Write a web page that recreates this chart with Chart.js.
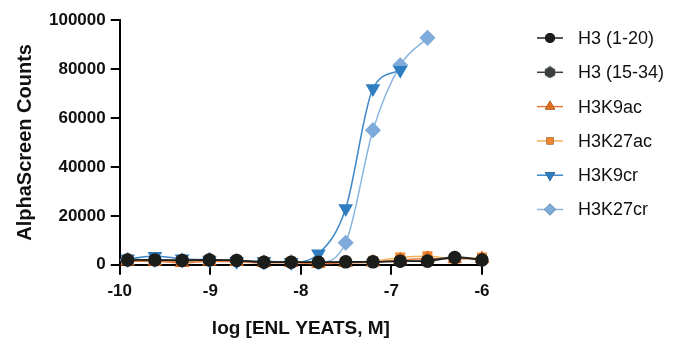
<!DOCTYPE html>
<html>
<head>
<meta charset="utf-8">
<script src="https://cdn.jsdelivr.net/npm/chart.js@4"></script>
<style>
    body { margin: 0; background: #fff; }
    .chart-box { width: 675px; height: 341px; position: relative; }
</style>
</head>
<body>
<div class="chart-box"><canvas id="curveChart"></canvas></div>
<script>
// log concentration of ENL YEATS (M), 2-fold dilution series
const logConc = [-9.913, -9.612, -9.311, -9.010, -8.709, -8.408, -8.107, -7.806, -7.505, -7.204, -6.903, -6.602, -6.301, -6.000];

const seriesNames = ['H3 (1-20)', 'H3 (15-34)', 'H3K9ac', 'H3K27ac', 'H3K9cr', 'H3K27cr'];

const h3_1_20  = [2000, 2000, 1800, 2000, 1800, 1000, 1000, 1000, 1200, 1200, 1500, 1500, 3000, 2000];
const h3_15_34 = [2200, 2000, 2000, 2200, 1800, 1200, 1200, 1000, 1000, 1200, 1500, 1800, 3200, 2200];
const h3k9ac   = [1500, 1500, 800, 1500, 1200, 800, 800, 500, 800, 1000, 2000, 2500, 2500, 2500];
const h3k27ac  = [2000, 1500, 1500, 2200, 1500, 1200, 1200, 800, 1200, 1500, 3000, 3500, 2500, 3000];
const h3k9cr   = [2500, 3500, 2500, 2000, 1500, 1500, 1000, 4500, 23000, 72000, 79500, null, null, null];
const h3k27cr  = [2000, 2000, 1800, 2000, 1500, 1000, 1000, 1000, 9000, 55000, 81500, 92700, null, null];

const xTicks = [-10, -9, -8, -7, -6];
const yTicks = [0, 20000, 40000, 60000, 80000, 100000];

// hexagon marker for H3 (15-34)
function makeHexagon(size, color) {
    const c = document.createElement('canvas');
    c.width = size; c.height = size;
    const g = c.getContext('2d');
    const r = size / 2;
    g.beginPath();
    for (let i = 0; i < 6; i++) {
        const a = Math.PI / 6 + i * Math.PI / 3;
        const px = r + r * Math.cos(a), py = r + r * Math.sin(a);
        if (i === 0) g.moveTo(px, py); else g.lineTo(px, py);
    }
    g.closePath();
    g.fillStyle = color;
    g.fill();
    return c;
}

const hexMarker = makeHexagon(12, '#3b3f3b');

const styles = [
    { line: '#1c1e1c', fill: '#1c1e1c', point: 'circle', radius: 6, rot: 0 },
    { line: '#3b3f3b', fill: '#3b3f3b', point: hexMarker, radius: 6, rot: 0 },
    { line: '#e57a3c', fill: '#e06a1b', point: 'triangle', radius: 7, rot: 0 },
    { line: '#f5b15a', fill: '#ee8630', point: 'rect', radius: 6, rot: 0 },
    { line: '#3f88c8', fill: '#2f7dc1', point: 'triangle', radius: 7, rot: 180 },
    { line: '#8ab5de', fill: '#7eabda', point: 'rectRot', radius: 7, rot: 0 }
];

const allValues = [h3_1_20, h3_15_34, h3k9ac, h3k27ac, h3k9cr, h3k27cr];

const datasets = allValues.map((vals, i) => ({
    label: seriesNames[i],
    data: logConc.map((x, j) => ({ x: x, y: vals[j] })).filter(p => p.y !== null),
    borderColor: styles[i].line,
    backgroundColor: styles[i].fill,
    pointBackgroundColor: styles[i].fill,
    pointBorderColor: styles[i].fill,
    pointStyle: styles[i].point,
    pointRadius: styles[i].radius,
    pointRotation: styles[i].rot,
    borderWidth: 1.5,
    cubicInterpolationMode: 'monotone',
    showLine: true,
    clip: false
}));

// legend drawn by hand: line with marker through it, like the original
const sideLegend = {
    id: 'sideLegend',
    afterDraw(chart) {
        const ctx = chart.ctx;
        const x0 = chart.chartArea.right + 55;
        let y = chart.chartArea.top + 18;
        ctx.save();
        ctx.font = '18px "Liberation Sans", Arial, sans-serif';
        ctx.textBaseline = 'middle';
        chart.data.datasets.forEach((ds, i) => {
            ctx.strokeStyle = styles[i].line;
            ctx.lineWidth = 1.5;
            ctx.beginPath();
            ctx.moveTo(x0, y);
            ctx.lineTo(x0 + 26, y);
            ctx.stroke();
            Chart.helpers.drawPoint(ctx, {
                pointStyle: styles[i].point,
                rotation: styles[i].rot,
                radius: styles[i].radius - 1,
                borderWidth: 0
            }, x0 + 13, y);
            ctx.fillStyle = styles[i].fill;
            ctx.fill();
            ctx.fillStyle = '#111';
            ctx.fillText(ds.label, x0 + 41, y + 1);
            y += 34.3;
        });
        ctx.restore();
    }
};

const axisStyle = {
    grid: { display: true, drawOnChartArea: false, drawTicks: true, color: '#000', lineWidth: 2 },
    border: { display: true, color: '#000', width: 2 }
};

new Chart(document.getElementById('curveChart').getContext('2d'), {
    type: 'scatter',
    data: { datasets: datasets },
    options: {
        responsive: true,
        maintainAspectRatio: false,
        animation: false,
        layout: { padding: { left: 9, right: 193, top: 20, bottom: 1 } },
        plugins: {
            legend: { display: false },
            tooltip: { enabled: false }
        },
        scales: {
            x: {
                type: 'linear',
                min: -10,
                max: -6,
                afterBuildTicks: axis => { axis.ticks = xTicks.map(v => ({ value: v })); },
                grid: Object.assign({}, axisStyle.grid, { tickLength: 10 }),
                border: axisStyle.border,
                ticks: {
                    color: '#111',
                    padding: 6,
                    font: { family: '"Liberation Sans", Arial, sans-serif', size: 17, weight: 'bold' },
                    callback: v => String(v)
                },
                title: {
                    display: true,
                    text: 'log [ENL YEATS, M]',
                    color: '#111',
                    padding: { top: 10, bottom: 0 },
                    font: { family: '"Liberation Sans", Arial, sans-serif', size: 19, weight: 'bold' }
                }
            },
            y: {
                min: 0,
                max: 100000,
                afterBuildTicks: axis => { axis.ticks = yTicks.map(v => ({ value: v })); },
                grid: Object.assign({}, axisStyle.grid, { tickLength: 9 }),
                border: axisStyle.border,
                ticks: {
                    color: '#111',
                    padding: 5,
                    font: { family: '"Liberation Sans", Arial, sans-serif', size: 17, weight: 'bold' },
                    callback: v => String(v)
                },
                title: {
                    display: true,
                    text: 'AlphaScreen Counts',
                    color: '#111',
                    padding: { top: 4, bottom: 7 },
                    font: { family: '"Liberation Sans", Arial, sans-serif', size: 20, weight: 'bold' }
                }
            }
        }
    },
    plugins: [sideLegend]
});
</script>
</body>
</html>
